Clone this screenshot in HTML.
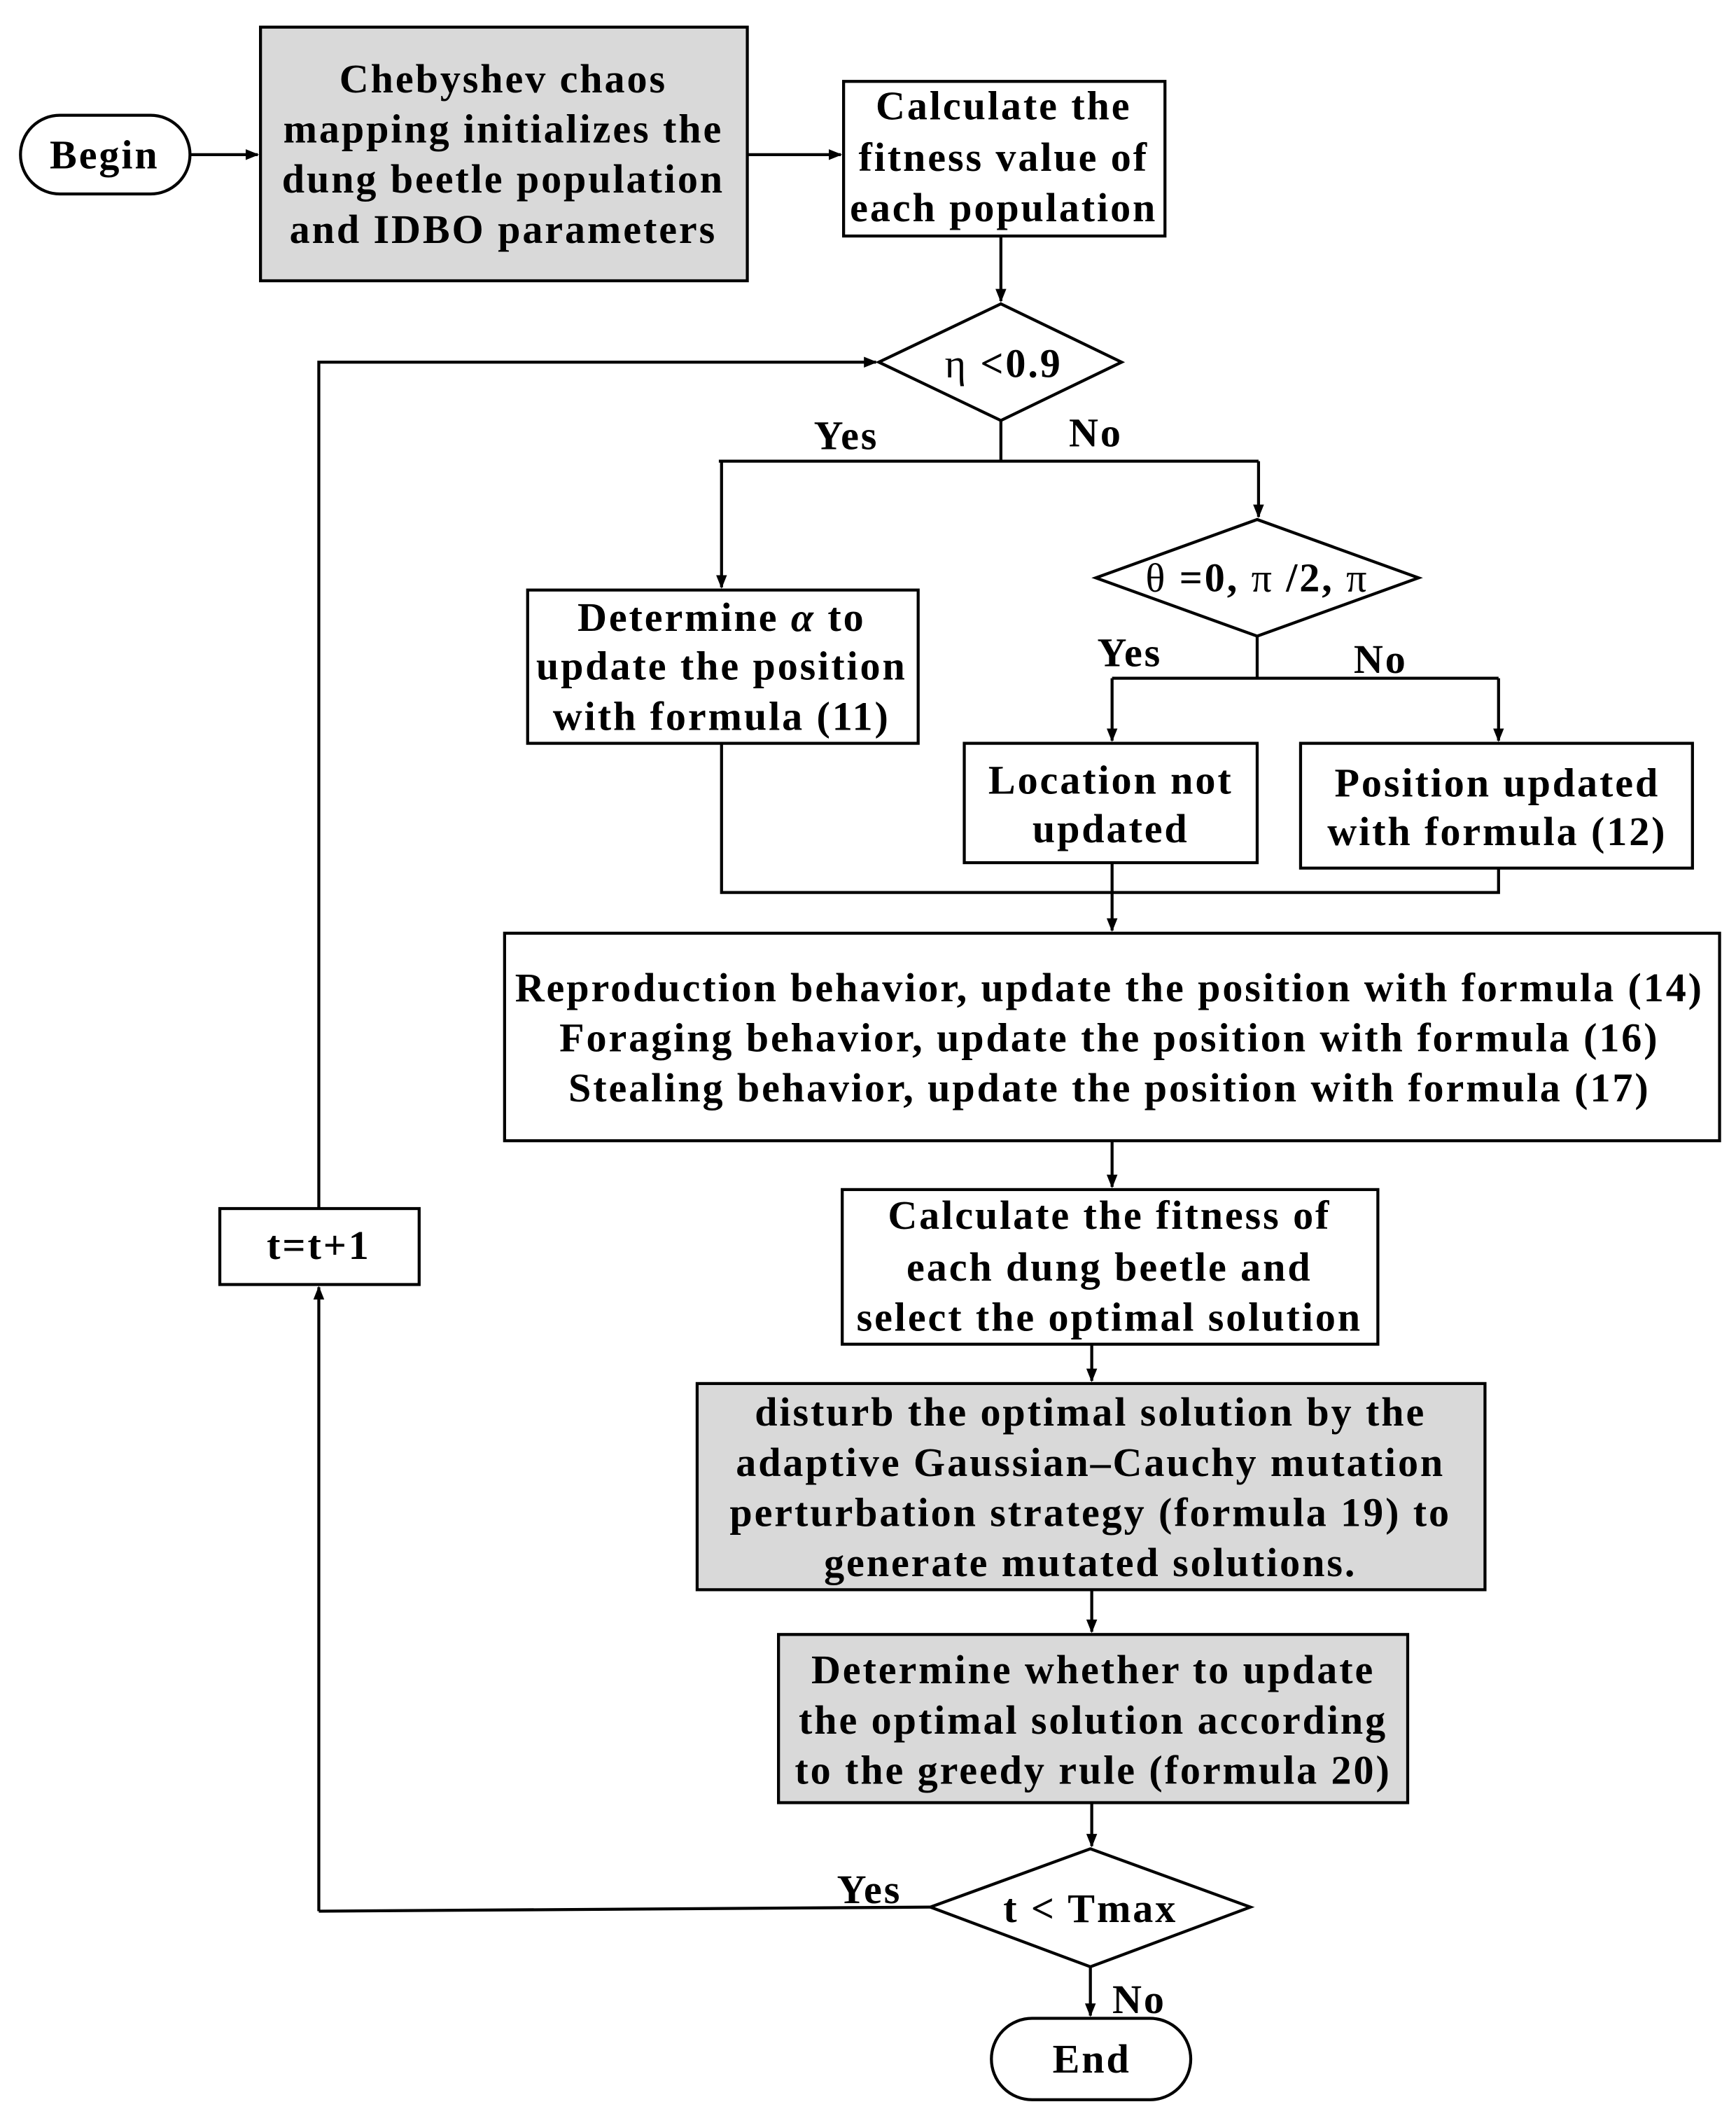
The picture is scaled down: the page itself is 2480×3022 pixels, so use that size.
<!DOCTYPE html>
<html><head><meta charset="utf-8"><style>
html,body{margin:0;padding:0;background:#fff;}
svg{display:block;}
text{font-family:"Liberation Serif",serif;font-weight:bold;font-size:30px;letter-spacing:1.5px;fill:#000;text-anchor:middle;dominant-baseline:central;}
</style></head><body>
<svg width="2480" height="3022" viewBox="0 0 1280 1560" xmlns="http://www.w3.org/2000/svg">
<defs><marker id="a" markerWidth="10" markerHeight="10" refX="9" refY="5" orient="auto" markerUnits="userSpaceOnUse"><path d="M0,1 L10,5 L0,9 Z" fill="#000"/></marker></defs>
<g fill="none" stroke="#000" stroke-width="2.2">
<rect x="15" y="85" width="125" height="58" rx="29" fill="#fff"/>
<rect x="192" y="20" width="359" height="187" fill="#d9d9d9"/>
<rect x="622" y="60" width="237" height="114" fill="#fff"/>
<polygon points="648,267 738,224 827,267 738,310" fill="#fff"/>
<polygon points="808,426 927,383 1046,426 927,469" fill="#fff"/>
<rect x="389" y="435" width="288" height="113"/>
<rect x="711" y="548" width="216" height="88"/>
<rect x="959" y="548" width="289" height="92"/>
<rect x="372" y="688" width="896" height="153"/>
<rect x="621" y="877" width="395" height="114"/>
<rect x="514" y="1020" width="581" height="152" fill="#d9d9d9"/>
<rect x="574" y="1205" width="464" height="124" fill="#d9d9d9"/>
<polygon points="686,1406 804,1363 922,1406 804,1450" fill="#fff"/>
<rect x="731" y="1488" width="147" height="60" rx="30"/>
<rect x="162" y="891" width="147" height="56"/>
<line x1="140" y1="114" x2="190" y2="114" marker-end="url(#a)"/>
<line x1="551" y1="114" x2="620" y2="114" marker-end="url(#a)"/>
<line x1="738" y1="174" x2="738" y2="222" marker-end="url(#a)"/>
<polyline points="738,310 738,340"/>
<polyline points="530,340 928,340"/>
<line x1="532" y1="340" x2="532" y2="433" marker-end="url(#a)"/>
<line x1="928" y1="340" x2="928" y2="381" marker-end="url(#a)"/>
<polyline points="927,469 927,500"/>
<polyline points="820,500 1105,500"/>
<line x1="820" y1="500" x2="820" y2="546" marker-end="url(#a)"/>
<line x1="1105" y1="500" x2="1105" y2="546" marker-end="url(#a)"/>
<polyline points="532,548 532,658 1105,658 1105,640"/>
<line x1="820" y1="636" x2="820" y2="686" marker-end="url(#a)"/>
<line x1="820" y1="841" x2="820" y2="875" marker-end="url(#a)"/>
<line x1="805" y1="991" x2="805" y2="1018" marker-end="url(#a)"/>
<line x1="805" y1="1172" x2="805" y2="1203" marker-end="url(#a)"/>
<line x1="805" y1="1329" x2="805" y2="1361" marker-end="url(#a)"/>
<line x1="804" y1="1450" x2="804" y2="1486" marker-end="url(#a)"/>
<polyline points="686,1406 235,1409"/>
<line x1="235" y1="1409" x2="235" y2="949" marker-end="url(#a)"/>
<polyline points="235,891 235,267 646,267" marker-end="url(#a)"/>
</g>
<text x="77" y="114">Begin</text>
<text x="371" y="58">Chebyshev chaos</text>
<text x="371" y="95">mapping initializes the</text>
<text x="371" y="132">dung beetle population</text>
<text x="371" y="169">and IDBO parameters</text>
<text x="740" y="78">Calculate the</text>
<text x="740" y="116">fitness value of</text>
<text x="740" y="153">each population</text>
<text x="740" y="268"><tspan font-weight="normal">η</tspan> &lt;0.9</text>
<text x="624" y="321">Yes</text>
<text x="808" y="319">No</text>
<text x="927" y="426"><tspan font-weight="normal">θ</tspan> =0, <tspan font-weight="normal">π</tspan> /2, <tspan font-weight="normal">π</tspan></text>
<text x="833" y="481">Yes</text>
<text x="1018" y="486">No</text>
<text x="532" y="455">Determine <tspan font-style="italic">α</tspan> to</text>
<text x="532" y="491">update the position</text>
<text x="532" y="528">with formula (11)</text>
<text x="819" y="575">Location not</text>
<text x="819" y="611">updated</text>
<text x="1104" y="577">Position updated</text>
<text x="1104" y="613">with formula  (12)</text>
<text x="818" y="728">Reproduction behavior, update the position with formula (14)</text>
<text x="818" y="765">Foraging behavior, update the position with formula (16)</text>
<text x="818" y="802">Stealing behavior, update the position with formula (17)</text>
<text x="818" y="896">Calculate the fitness of</text>
<text x="818" y="934">each dung beetle and</text>
<text x="818" y="971">select the optimal solution</text>
<text x="804" y="1041">disturb the optimal solution by the</text>
<text x="804" y="1078">adaptive Gaussian–Cauchy mutation</text>
<text x="804" y="1115">perturbation strategy (formula  19) to</text>
<text x="804" y="1152">generate mutated solutions.</text>
<text x="806" y="1231">Determine whether to update</text>
<text x="806" y="1268">the optimal solution according</text>
<text x="806" y="1305">to the greedy rule (formula 20)</text>
<text x="804" y="1407">t &lt; Tmax</text>
<text x="641" y="1393">Yes</text>
<text x="840" y="1474">No</text>
<text x="805" y="1518">End</text>
<text x="235" y="918">t=t+1</text>
</svg>
</body></html>
